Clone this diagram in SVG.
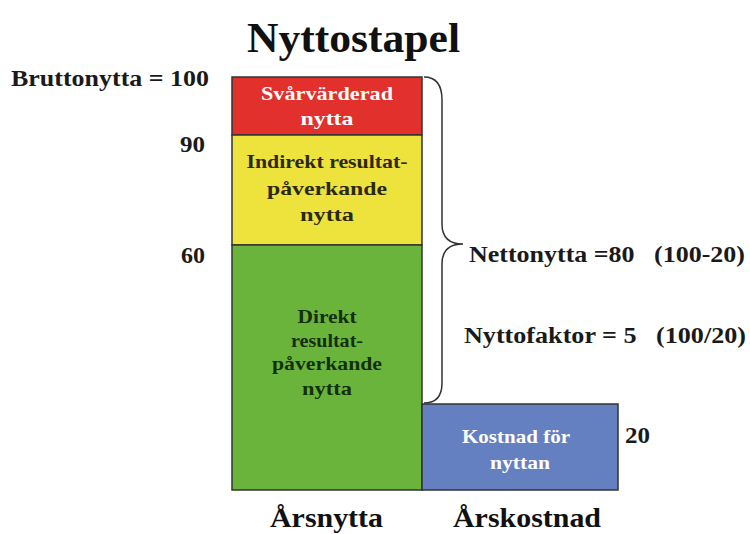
<svg xmlns="http://www.w3.org/2000/svg" width="750" height="534" viewBox="0 0 750 534">
<style>
text{font-family:"Liberation Serif","Times New Roman",serif;font-weight:bold}
.lbl{font-size:23px;fill:#1a1a1a}
.seg{font-size:19.5px;text-anchor:middle}
.box{stroke:#333;stroke-width:1.5}
</style>
<rect width="750" height="534" fill="#fff"/>
<text x="247" y="52" font-size="43" fill="#111" textLength="213" lengthAdjust="spacingAndGlyphs">Nyttostapel</text>
<text class="lbl" x="11" y="86" textLength="198" lengthAdjust="spacingAndGlyphs">Bruttonytta = 100</text>
<text class="lbl" x="180" y="152" textLength="25" lengthAdjust="spacingAndGlyphs">90</text>
<text class="lbl" x="181" y="263" textLength="24" lengthAdjust="spacingAndGlyphs">60</text>
<g id="red"><rect class="box" x="232" y="77" width="190" height="58" fill="#e2312c"/>
<text class="seg" x="327" y="100" fill="#fff" textLength="132" lengthAdjust="spacingAndGlyphs">Svårvärderad</text><text class="seg" x="327" y="125" fill="#fff" textLength="53" lengthAdjust="spacingAndGlyphs">nytta</text></g>
<g id="yellow"><rect class="box" x="232" y="135" width="190" height="110" fill="#eee23c"/>
<text class="seg" x="327" y="168" fill="#2a2a10" textLength="161" lengthAdjust="spacingAndGlyphs">Indirekt resultat-</text><text class="seg" x="327" y="195" fill="#2a2a10" textLength="120" lengthAdjust="spacingAndGlyphs">påverkande</text><text class="seg" x="327" y="221" fill="#2a2a10" textLength="54" lengthAdjust="spacingAndGlyphs">nytta</text></g>
<g id="green"><rect class="box" x="232" y="245" width="190" height="245" fill="#6bb43c"/>
<text class="seg" x="327" y="323" fill="#13300a" textLength="59" lengthAdjust="spacingAndGlyphs">Direkt</text><text class="seg" x="327" y="347" fill="#13300a" textLength="72" lengthAdjust="spacingAndGlyphs">resultat-</text><text class="seg" x="327" y="370" fill="#13300a" textLength="110" lengthAdjust="spacingAndGlyphs">påverkande</text><text class="seg" x="327" y="395" fill="#13300a" textLength="50" lengthAdjust="spacingAndGlyphs">nytta</text></g>
<g id="blue"><rect class="box" x="422" y="404" width="196" height="86" fill="#6580c0"/>
<text class="seg" x="516" y="443" fill="#fff" textLength="108" lengthAdjust="spacingAndGlyphs">Kostnad för</text><text class="seg" x="520" y="469" fill="#fff" textLength="60" lengthAdjust="spacingAndGlyphs">nyttan</text></g>
<g id="connectors" fill="none" stroke="#333" stroke-width="1.5">
<path d="M424,77 Q442,77 442,100 L442,224 Q442,244 463,244 Q442,244 442,264 L442,383 Q442,403 424,403"/>
</g>
<text class="lbl" x="469" y="262" xml:space="preserve" textLength="276" lengthAdjust="spacingAndGlyphs">Nettonytta =80   (100-20)</text>
<text class="lbl" x="464" y="343" xml:space="preserve" textLength="282" lengthAdjust="spacingAndGlyphs">Nyttofaktor = 5   (100/20)</text>
<text class="lbl" x="625" y="443" textLength="25" lengthAdjust="spacingAndGlyphs">20</text>
<text x="270" y="527" font-size="27" fill="#111" textLength="113" lengthAdjust="spacingAndGlyphs">Årsnytta</text>
<text x="453" y="527" font-size="27" fill="#111" textLength="148" lengthAdjust="spacingAndGlyphs">Årskostnad</text>
</svg>
